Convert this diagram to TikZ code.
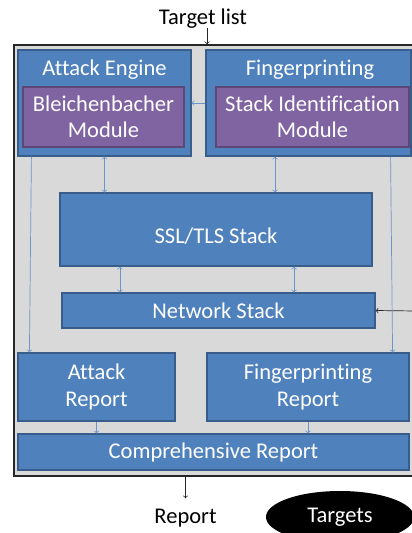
\documentclass[tikz,border=0pt]{standalone}
\usepackage{fontspec}
\setmainfont{Carlito}[Ligatures=NoCommon]
\usetikzlibrary{shapes.geometric}
\definecolor{boxblue}{HTML}{4F81BD}
\definecolor{boxedge}{HTML}{385D8A}
\definecolor{modpurple}{HTML}{8064A2}
\definecolor{modedge}{HTML}{5C4776}
\definecolor{panelgray}{HTML}{D9D9D9}
\definecolor{linkblue}{HTML}{6A96CC}
\definecolor{framec}{HTML}{262626}
\tikzset{
  box/.style={draw=boxedge, fill=boxblue, line width=0.8pt, inner sep=0pt, text=white, align=center},
  module/.style={draw=modedge, fill=modpurple, line width=0.8pt, inner sep=0pt, text=white, align=center},
  title/.style={inner sep=0pt, anchor=base},
  link/.style={draw=linkblue, line width=0.5pt},
}
\begin{document}
\begin{tikzpicture}[x=0.025cm, y=-0.025cm, font=\fontsize{16}{18.6}\selectfont]
                \useasboundingbox (0,0) rectangle (412,533);
                % Outer frame
                \node[draw=framec, fill=panelgray, line width=1pt, inner sep=0pt,
                      minimum width=10.15cm, minimum height=10.775cm] (frame) at (217,260.5) {};
                
                % Engine blocks
                \node[box, minimum width=4.325cm, minimum height=2.65cm] (engine) at (104.5,103) {};
                \node[title, text=white] (enginetitle) at (104.5,75) {Attack Engine};
                \node[module, minimum width=4.025cm, minimum height=1.5cm] (blei) at (103.5,117) {Bleichenbacher\\Module};
                \node[box, minimum width=5.125cm, minimum height=2.65cm] (fp) at (308.5,103) {};
                \node[title, text=white] (fptitle) at (310,75) {Fingerprinting};
                \node[module, minimum width=4.825cm, minimum height=1.5cm] (stackid) at (312.5,117) {Stack Identification\\Module};
                
                % Stacks
                \node[box, minimum width=7.8cm, minimum height=1.825cm, text height=0.72cm, text depth=0pt] (ssl) at (216,229.5) {SSL/TLS Stack};
                \node[box, minimum width=7.825cm, minimum height=0.875cm] (net) at (218.5,310.5) {Network Stack};
                
                % Reports
                \node[box, minimum width=3.925cm, minimum height=1.7cm] (atkrep) at (96.5,387) {Attack\\Report};
                \node[box, minimum width=5.05cm, minimum height=1.7cm] (fprep) at (308,387) {Fingerprinting\\Report};
                \node[box, minimum width=9.775cm, minimum height=0.9cm] (comp) at (213.5,452) {Comprehensive Report};
                
                % Outside labels
                \node[title] (tl) at (203,24) {Target list};
                \node[title] (rep) at (185.5,523) {Report};
                \node[ellipse, fill=black, text=white, minimum width=3.7cm, minimum height=1.3cm] (targets) at (340,517) {Targets};
                \coordinate (netin) at (416,311);
                
                % Connectors
                \draw[->, framec, line width=0.5pt] ([xshift=0.1cm]tl.south) -- ([xshift=0.1cm]tl.south |- frame.north);
                \draw[->, framec, line width=0.5pt] (rep.north |- frame.south) -- ([yshift=0.25cm]rep.north);
                \draw[->, framec, line width=0.5pt] (netin) -- (net.east);
                \draw[->, link] (fp.west) -- (engine.east);
                \draw[<->, link] (engine.south) -- (engine.south |- ssl.north);
                \draw[<->, link] ([xshift=1.475cm]ssl.north) -- ([xshift=1.475cm]ssl.north |- fp.south);
                \draw[<->, link] ([xshift=-2.4cm]ssl.south) -- ([xshift=-2.4cm]ssl.south |- net.north);
                \draw[<->, link] ([xshift=1.95cm]ssl.south) -- ([xshift=1.95cm]ssl.south |- net.north);
                \draw[->, link] ([xshift=0.35cm]engine.south west) -- ([xshift=0.3cm]atkrep.north west);
                \draw[->, link] ([xshift=-0.525cm]fp.south east) -- ([xshift=-0.425cm]fprep.north east);
                \draw[->, link] (atkrep.south) -- (atkrep.south |- comp.north);
                \draw[->, link] (fprep.south) -- (fprep.south |- comp.north);
\end{tikzpicture}
\end{document}
